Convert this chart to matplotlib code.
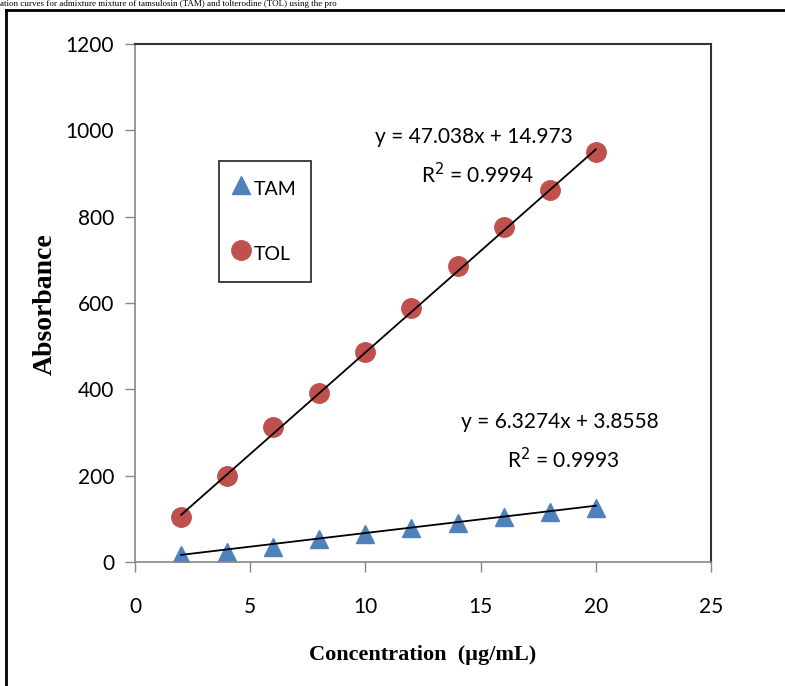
import matplotlib
matplotlib.use("Agg")
import matplotlib.pyplot as plt
from matplotlib.lines import Line2D
import numpy as np

# Data
conc = [2, 4, 6, 8, 10, 12, 14, 16, 18, 20]
tam = [16, 23, 35, 53, 65, 79, 90, 104, 116, 125]
tol = [104, 199, 313, 392, 487, 589, 686, 776, 862, 950]
tam_fit = (6.3274, 3.8558)
tol_fit = (47.038, 14.973)
tam_eq = ["y = 6.3274x + 3.8558", "R$^2$ = 0.9993"]
tol_eq = ["y = 47.038x + 14.973", "R$^2$ = 0.9994"]
xticks = [0, 5, 10, 15, 20, 25]
yticks = [0, 200, 400, 600, 800, 1000, 1200]

SANS = ["Lato", "DejaVu Sans"]
SERIF = ["Liberation Serif", "DejaVu Serif"]

fig = plt.figure(figsize=(7.85, 6.86), dpi=100)
W, H = 785, 686
ax = fig.add_axes([135 / W, 1 - 562 / H, (711 - 135) / W, (562 - 44) / H])

blue = "#4F81BD"
red = "#C0504D"

xs = np.array([conc[0], conc[-1]])
ax.plot(xs, tam_fit[0] * xs + tam_fit[1], color="black", lw=1.3, zorder=3)
ax.plot(xs, tol_fit[0] * xs + tol_fit[1], color="black", lw=1.3, zorder=3)
ax.plot(conc, tam, linestyle="none", marker="^", ms=13, color=blue, label="TAM", zorder=2)
ax.plot(conc, tol, linestyle="none", marker="o", ms=14, color=red, label="TOL", zorder=2)

ax.set_xlim(0, 25)
ax.set_ylim(0, 1200)
ax.set_xticks(xticks)
ax.set_yticks(yticks)
ax.tick_params(axis="both", direction="out", length=7, width=1, color="#888888",
               labelsize=15, pad=8)
for lab in ax.get_xticklabels() + ax.get_yticklabels():
    lab.set_family(SANS)
ax.tick_params(axis="x", pad=18)

for side in ["left", "bottom"]:
    ax.spines[side].set_color("#888888")
    ax.spines[side].set_linewidth(1.2)
for side in ["top", "right"]:
    ax.spines[side].set_color("#333333")
    ax.spines[side].set_linewidth(1.5)

ax.set_xlabel("Concentration  (µg/mL)", family=SERIF, fontsize=16, fontweight="bold")
ax.xaxis.set_label_coords(0.5, -(655 - 562) / 518)
ax.xaxis.label.set_va("center")
ax.set_ylabel("Absorbance", family=SERIF, fontsize=20, fontweight="bold")
ax.yaxis.set_label_coords(-(135 - 45) / 576, (562 - 304) / 518)
ax.yaxis.label.set_va("center")

ax.text(14.7, 985, tol_eq[0], ha="center", va="center", fontsize=15, family=SANS)
ax.text(14.85, 898, tol_eq[1], ha="center", va="center", fontsize=15, family=SANS)
ax.text(18.45, 325, tam_eq[0], ha="center", va="center", fontsize=15, family=SANS)
ax.text(18.6, 237, tam_eq[1], ha="center", va="center", fontsize=15, family=SANS)

leg = ax.legend(loc="upper left", bbox_to_anchor=((219 - 135) / 576, (562 - 161) / 518),
                frameon=True, fancybox=False, edgecolor="black", labelspacing=2.0,
                handlelength=0.8, handleheight=1.7, handletextpad=0.25, borderpad=0.75,
                borderaxespad=0, prop={"family": SANS, "size": 14})
leg.get_frame().set_linewidth(1.3)

# outer frame of the figure panel
fig.add_artist(Line2D([6 / W, 1.0], [1 - 10 / H, 1 - 10 / H], color="black", lw=2))
fig.add_artist(Line2D([6 / W, 6 / W], [0, 1 - 10 / H], color="black", lw=2))

# caption line at the very top (partly visible in the source)
fig.text(0.0, 1.0,
         "ation curves for admixture mixture of tamsulosin (TAM) and tolterodine (TOL) using the pro",
         family=SERIF, fontsize=6.5, ha="left", va="top")

fig.savefig("out.png", dpi=100)
